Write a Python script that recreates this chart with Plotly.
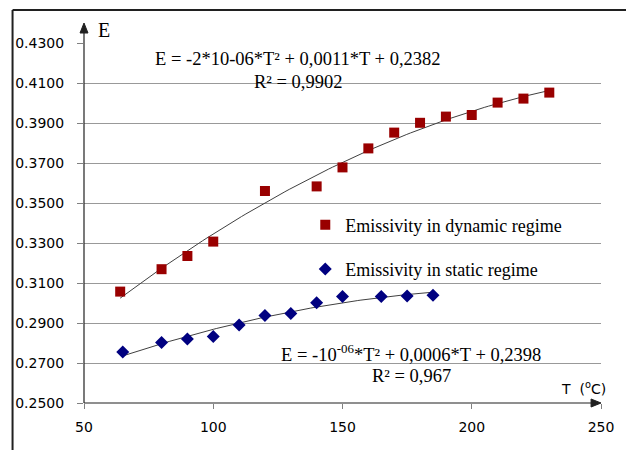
import numpy as np
import plotly.graph_objects as go

# ---- data ----
dyn_T = [64, 80, 90, 100, 120, 140, 150, 160, 170, 180, 190, 200, 210, 220, 230]
dyn_E = [0.3057, 0.3169, 0.3235, 0.3307, 0.3560, 0.3583, 0.3678, 0.3773,
         0.3852, 0.3901, 0.3932, 0.3940, 0.4002, 0.4022, 0.4052]
sta_T = [65, 80, 90, 100, 110, 120, 130, 140, 150, 165, 175, 185]
sta_E = [0.2755, 0.2803, 0.2820, 0.2832, 0.2890, 0.2938, 0.2948, 0.3001,
         0.3032, 0.3032, 0.3035, 0.3039]
x_ticks = [50, 100, 150, 200, 250]
y_ticks = [0.25, 0.27, 0.29, 0.31, 0.33, 0.35, 0.37, 0.39, 0.41, 0.43]
dyn_name = "Emissivity in dynamic regime"
sta_name = "Emissivity in static regime"
eq_dyn = "E = -2*10-06*T² + 0,0011*T + 0,2382"
r2_dyn = "R² = 0,9902"
eq_sta = "E = -10<sup>-06</sup>*T² + 0,0006*T + 0,2398"
r2_sta = "R² = 0,967"

RED = "#990000"
BLUE = "#000080"
SERIF = "Liberation Serif"
SANS = "DejaVu Sans"
PW, PH = 521, 360  # plot area size in px


def trend(xs, ys):
    c = np.polyfit(xs, ys, 2)
    t = np.linspace(min(xs), max(xs), 100)
    return t, np.polyval(c, t)


fig = go.Figure()

tx, ty = trend(dyn_T, dyn_E)
fig.add_trace(go.Scatter(x=tx, y=ty, mode="lines", line=dict(color="#404040", width=1),
                         showlegend=False, hoverinfo="skip"))
tx, ty = trend(sta_T, sta_E)
fig.add_trace(go.Scatter(x=tx, y=ty, mode="lines", line=dict(color="#404040", width=1),
                         showlegend=False, hoverinfo="skip"))

fig.add_trace(go.Scatter(x=dyn_T, y=dyn_E, mode="markers", name=dyn_name, legendgroup="a",
                         marker=dict(symbol="square", size=10, color=RED)))
fig.add_trace(go.Scatter(x=sta_T, y=sta_E, mode="markers", name=sta_name, legendgroup="b",
                         marker=dict(symbol="diamond", size=10, color=BLUE)))

fig.update_layout(
    width=626, height=450,
    margin=dict(l=84, r=21, t=43, b=47),
    paper_bgcolor="white", plot_bgcolor="white",
    showlegend=True,
    legend=dict(x=0.428, y=0.546, xanchor="left", yanchor="top",
                font=dict(family=SERIF, size=18, color="black"),
                bgcolor="rgba(0,0,0,0)", traceorder="grouped", tracegroupgap=18,
                itemsizing="trace"),
    xaxis=dict(range=[50, 250], tickvals=x_ticks, ticktext=[str(v) for v in x_ticks],
               showgrid=False, zeroline=False, showline=False,
               ticks="outside", ticklen=5, tickcolor="#808080",
               tickfont=dict(family=SANS, size=14, color="black"),
               ticklabelstandoff=6),
    yaxis=dict(range=[0.25, 0.43], tickvals=y_ticks, ticktext=[f"{v:.4f}" for v in y_ticks],
               showgrid=True, gridcolor="#999999", gridwidth=1, zeroline=False, showline=False,
               ticks="outside", ticklen=6, tickcolor="#808080",
               tickfont=dict(family=SANS, size=14, color="black"),
               ticklabelstandoff=10),
)

# outer frame (left and top edges visible)
fx = (12 - 84) / PW
fy = (403 - 10) / PH
fig.add_shape(type="line", xref="paper", yref="paper", x0=fx, x1=fx, y0=-0.3, y1=fy,
              line=dict(color="#202020", width=2))
fig.add_shape(type="line", xref="paper", yref="paper", x0=fx, x1=1.2, y0=fy, y1=fy,
              line=dict(color="#202020", width=2))

# axis lines with arrow heads
ytip = (403 - 23) / PH
fig.add_shape(type="line", xref="paper", yref="paper", x0=0, x1=0, y0=0, y1=ytip - 4 / PH,
              line=dict(color="#202020", width=1.2))
fig.add_shape(type="path", xref="paper", yref="paper",
              path=f"M {-4/PW} {ytip - 10/PH} L 0 {ytip} L {4/PW} {ytip - 10/PH} Z",
              fillcolor="#202020", line=dict(color="#202020", width=1))
fig.add_shape(type="line", xref="paper", yref="paper", x0=0, x1=1 - 4 / PW, y0=0, y1=0,
              line=dict(color="#202020", width=1.2))
fig.add_shape(type="path", xref="paper", yref="paper",
              path=f"M {1 - 10/PW} {4/PH} L 1 0 L {1 - 10/PW} {-4/PH} Z",
              fillcolor="#202020", line=dict(color="#202020", width=1))

# axis titles
fig.add_annotation(xref="paper", yref="paper", x=(96 - 84) / PW, y=(403 - 30) / PH,
                   xanchor="left", yanchor="middle", text="E", showarrow=False,
                   font=dict(family=SERIF, size=20, color="black"))
fig.add_annotation(xref="paper", yref="paper", x=1 + 7 / PW, y=(403 - 388) / PH,
                   xanchor="right", yanchor="middle", text="T  (<sup>o</sup>C)", showarrow=False,
                   font=dict(family=SANS, size=14, color="black"))

# trendline equations
fig.add_annotation(x=132.8, y=0.422, text=eq_dyn, showarrow=False, xanchor="center",
                   font=dict(family=SERIF, size=18.5, color="black"))
fig.add_annotation(x=132.8, y=0.4105, text=r2_dyn, showarrow=False, xanchor="center",
                   font=dict(family=SERIF, size=18.5, color="black"))
fig.add_annotation(x=176.5, y=0.2751, text=eq_sta, showarrow=False, xanchor="center",
                   font=dict(family=SERIF, size=18.5, color="black"))
fig.add_annotation(x=176.5, y=0.2635, text=r2_sta, showarrow=False, xanchor="center",
                   font=dict(family=SERIF, size=18.5, color="black"))

fig.write_html("out.html", config={"displayModeBar": False},
               post_script="document.body.style.margin='0';")
